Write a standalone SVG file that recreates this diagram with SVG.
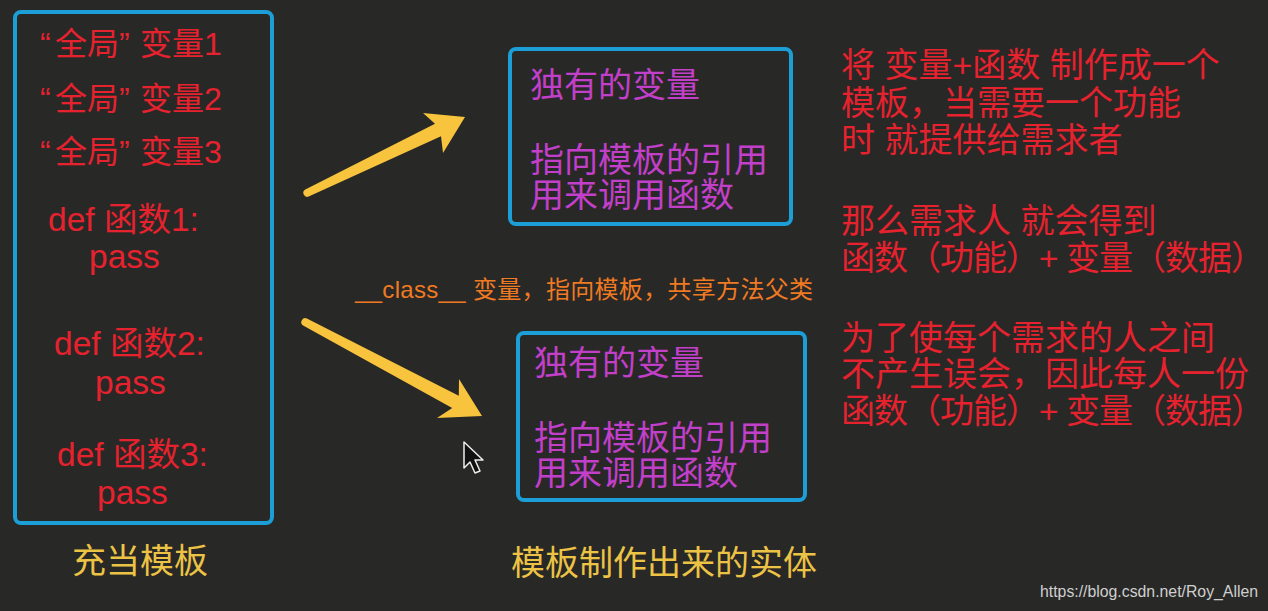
<svg xmlns="http://www.w3.org/2000/svg" width="1268" height="611" viewBox="0 0 1268 611">
<style>
text{font-family:'Liberation Sans','Noto Sans CJK SC',sans-serif}
.box{fill:none;stroke:#1c9fd6;stroke-width:4}
.red{fill:#e5222e;font-size:32px}
.def{fill:#e5222e;font-size:33.5px}
.note{fill:#e5222e;font-size:34px}
.pur{fill:#c23fc9;font-size:34px}
.yel{fill:#ecc345;font-size:34px}
.org{fill:#f07a22;font-size:24px}
.arrow{fill:#f8c33d}
</style>
<rect width="1268" height="611" fill="#282827"/>
<g id="template">
<rect class="box" x="15" y="12" width="257" height="511" rx="6"/>
<text class="red" y="55"><tspan x="40">“</tspan><tspan x="55">全局</tspan><tspan x="119">”</tspan><tspan x="140">变量1</tspan></text>
<text class="red" y="110"><tspan x="40">“</tspan><tspan x="55">全局</tspan><tspan x="119">”</tspan><tspan x="140">变量2</tspan></text>
<text class="red" y="163"><tspan x="40">“</tspan><tspan x="55">全局</tspan><tspan x="119">”</tspan><tspan x="140">变量3</tspan></text>
<text class="def" x="48" y="231">def 函数1:</text>
<text class="def" x="89" y="268">pass</text>
<text class="def" x="54" y="355">def 函数2:</text>
<text class="def" x="95" y="394">pass</text>
<text class="def" x="57" y="466">def 函数3:</text>
<text class="def" x="97" y="504">pass</text>
</g>
<g id="template-label"><text class="yel" x="72" y="573">充当模板</text></g>
<g id="instance1">
<rect class="box" x="510" y="49" width="281" height="175" rx="6"/>
<text class="pur" x="530" y="97">独有的变量</text>
<text class="pur" x="530" y="172">指向模板的引用</text>
<text class="pur" x="530" y="207">用来调用函数</text>
</g>
<g id="instance2">
<rect class="box" x="518" y="333" width="287" height="167" rx="6"/>
<text class="pur" x="534" y="375">独有的变量</text>
<text class="pur" x="534" y="450">指向模板的引用</text>
<text class="pur" x="534" y="485">用来调用函数</text>
</g>
<g id="instance-label"><text class="yel" x="511" y="575">模板制作出来的实体</text></g>
<g id="class-label"><text class="org" x="355" y="298" textLength="458" lengthAdjust="spacing">__class__ 变量，指向模板，共享方法父类</text></g>
<g id="connectors">
<path class="arrow" d="M305.3 189.4 L435 123.7 L423 113 L465 117 L443 153 L441 136.3 L308.7 196.6 A4 4 0 0 1 305.3 189.4 Z"/>
<path class="arrow" d="M306.9 318.5 L458.8 395.7 L459 379 L482 416 L437 418 L452.2 408.1 L303.1 325.5 A4 4 0 0 1 306.9 318.5 Z"/>
</g>
<g id="notes">
<text class="note" x="841" y="77">将 变量+函数 制作成一个</text>
<text class="note" x="841" y="115">模板，当需要一个功能</text>
<text class="note" x="841" y="152">时 就提供给需求者</text>
<text class="note" x="841" y="233">那么需求人 就会得到</text>
<text class="note" x="841" y="270" textLength="424" lengthAdjust="spacing">函数（功能）+ 变量（数据）</text>
<text class="note" x="841" y="350">为了使每个需求的人之间</text>
<text class="note" x="841" y="386">不产生误会，因此每人一份</text>
<text class="note" x="841" y="423" textLength="424" lengthAdjust="spacing">函数（功能）+ 变量（数据）</text>
</g>
<g id="cursor"><path d="M464 442 L464 468 L470 462 L475 473 L480 471 L475 460 L483 460 Z" fill="#111" stroke="#eee" stroke-width="1.5" stroke-linejoin="round"/></g>
<g id="watermark"><text x="1040" y="597" font-size="16" fill="#cfcfcf" textLength="218" lengthAdjust="spacingAndGlyphs">https://blog.csdn.net/Roy_Allen</text></g>
</svg>
